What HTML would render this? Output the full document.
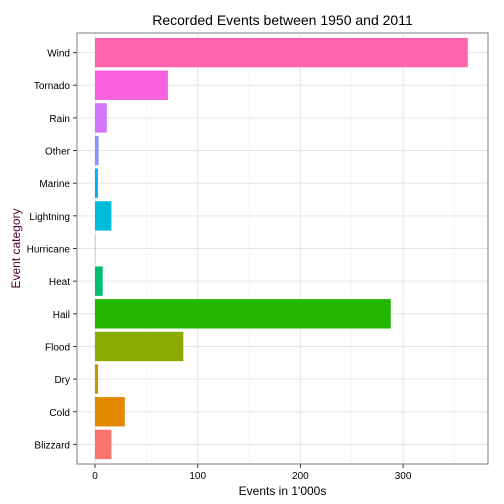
<!DOCTYPE html>
<html><head><meta charset="utf-8"><style>body{margin:0;background:#fff}svg{display:block}text{font-family:"Liberation Sans",sans-serif}</style></head>
<body>
<svg id="c" width="504" height="504">
<rect width="504" height="504" fill="#fff"/>
</svg>
<script>
const categories=["Blizzard","Cold","Dry","Flood","Hail","Heat","Hurricane","Lightning","Marine","Other","Rain","Tornado","Wind"];
const values=[16,29,3,86,288,7.5,0.3,16,2.8,3.5,11.5,71,363];
const colors=["#F8766D","#E18A00","#BE9C00","#8CAB00","#24B700","#00BE70","#00C1AB","#00BBDA","#00ACFC","#8B93FF","#D575FE","#F962DD","#FF65AC"];
const ticks=[0,100,200,300];
const L=77,R=488,T=33,B=464;
const x=v=>95+v*1.027;
const step=(B-T)/(categories.length+0.2);
const y=i=>B-step*(i+0.6);
const svg=document.getElementById('c');
const NS='http://www.w3.org/2000/svg';
function el(t,a,txt){const e=document.createElementNS(NS,t);for(const k in a)e.setAttribute(k,a[k]);if(txt!=null)e.textContent=txt;svg.appendChild(e);return e;}
for(let i=0;i<ticks.length;i++){const m=ticks[i]+50;if(x(m)<R){const g=el('line',{x1:x(m),x2:x(m),y1:T,y2:B,stroke:'#f2f2f2','stroke-width':0.6});}}
ticks.forEach(t=>{const g=el('line',{x1:x(t),x2:x(t),y1:T,y2:B,stroke:'#e5e5e5','stroke-width':1});});
categories.forEach((c,i)=>{const g=el('line',{x1:L,x2:R,y1:y(i),y2:y(i),stroke:'#e5e5e5','stroke-width':1});});
categories.forEach((c,i)=>{
const b=el('rect',{x:x(0),y:y(i)-step*0.45,width:Math.max(0,x(values[i])-x(0)),height:step*0.9,fill:colors[i]});


const tk=el('line',{x1:L-4,x2:L,y1:y(i),y2:y(i),stroke:'#333'});


const lb=el('text',{x:L-7,y:y(i)+4,'text-anchor':'end','font-size':10,fill:'#000'},c);


});
ticks.forEach(t=>{
const tk=el('line',{x1:x(t),x2:x(t),y1:B,y2:B+4,stroke:'#333'});


const lb=el('text',{x:x(t),y:B+15,'text-anchor':'middle','font-size':10,fill:'#000'},t);


});
const bd=el('rect',{x:L,y:T,width:R-L,height:B-T,fill:'none',stroke:'#7f7f7f','stroke-width':1});


const tt=el('text',{x:(L+R)/2,y:25,'text-anchor':'middle','font-size':14},'Recorded Events between 1950 and 2011');


const xt=el('text',{x:(L+R)/2,y:495,'text-anchor':'middle','font-size':12},"Events in 1'000s");


const yt=el('text',{x:0,y:0,'text-anchor':'middle','font-size':12,fill:'#4b0033',transform:'translate(20,'+((T+B)/2)+') rotate(-90)'},'Event category');


</script>
</body></html>
